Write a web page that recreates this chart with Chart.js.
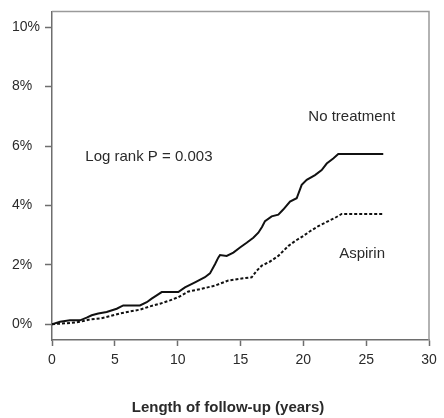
<!DOCTYPE html>
<html>
<head>
<meta charset="utf-8">
<script src="https://cdn.jsdelivr.net/npm/chart.js@4.4.1/dist/chart.umd.min.js"></script>
<style>
  html, body { margin: 0; padding: 0; background: #fff; }
  #wrap { width: 444px; height: 418px; position: relative; }
</style>
</head>
<body>
<div id="wrap"><canvas id="km"></canvas></div>
<script>
// Cumulative incidence (%) by years of follow-up
const noTreatmentYears = [0, 0.64, 1.43, 2.23, 2.76, 3.16, 3.68, 4.35, 5.15, 5.67, 7.0, 7.54, 7.93, 8.33, 8.73, 10.05, 10.58, 11.38, 12.17, 12.57, 12.97, 13.23, 13.37, 13.9, 14.43, 14.96, 15.49, 16.02, 16.42, 16.71, 16.95, 17.48, 18.01, 18.4, 18.94, 19.47, 19.87, 20.27, 20.93, 21.46, 21.86, 22.38, 22.78, 26.36];
const noTreatmentPct   = [0, 0.08, 0.13, 0.13, 0.22, 0.30, 0.36, 0.41, 0.52, 0.63, 0.63, 0.74, 0.86, 0.97, 1.08, 1.08, 1.24, 1.41, 1.58, 1.71, 2.02, 2.24, 2.33, 2.30, 2.41, 2.58, 2.74, 2.91, 3.08, 3.27, 3.47, 3.63, 3.69, 3.86, 4.13, 4.24, 4.69, 4.86, 5.02, 5.19, 5.41, 5.58, 5.73, 5.73];

const aspirinYears = [0, 1.43, 2.23, 3.02, 3.82, 4.62, 5.41, 6.21, 7.0, 7.8, 8.6, 9.39, 10.05, 10.85, 11.91, 12.97, 14.03, 15.1, 15.89, 16.29, 16.69, 17.35, 18.01, 18.8, 19.34, 20.0, 20.53, 21.19, 21.99, 22.52, 23.05, 26.36];
const aspirinPct   = [0, 0.04, 0.08, 0.16, 0.19, 0.27, 0.36, 0.43, 0.49, 0.6, 0.69, 0.8, 0.91, 1.1, 1.19, 1.3, 1.47, 1.54, 1.58, 1.8, 1.97, 2.11, 2.3, 2.63, 2.8, 2.97, 3.13, 3.3, 3.47, 3.58, 3.71, 3.71];

const yTickValues = [0, 2, 4, 6, 8, 10];
const xTickValues = [0, 5, 10, 15, 20, 25, 30];

const seriesLabels = ['No treatment', 'Aspirin'];
const pValueText = 'Log rank P = 0.003';
const xTitle = 'Length of follow-up (years)';

const toPoints = (xs, ys) => xs.map((x, i) => ({ x: x, y: ys[i] }));

const FONT = '"Liberation Sans", Arial, sans-serif';
const TEXT = '#2a2a2a';
const AXIS = '#6e6e6e';

// Box frame (top/right) plus the text annotations
const annotate = {
  id: 'annotate',
  afterDraw(chart) {
    const { ctx, chartArea: a, scales: { x, y } } = chart;
    ctx.save();
    ctx.strokeStyle = '#9a9a9a';
    ctx.lineWidth = 1.5;
    ctx.beginPath();
    ctx.moveTo(a.left, a.top);
    ctx.lineTo(a.right, a.top);
    ctx.lineTo(a.right, a.bottom);
    ctx.stroke();

    ctx.fillStyle = TEXT;
    ctx.font = '15px ' + FONT;
    ctx.textBaseline = 'middle';
    ctx.textAlign = 'left';
    ctx.fillText(pValueText, x.getPixelForValue(2.65), y.getPixelForValue(5.65));
    ctx.fillText(seriesLabels[0], x.getPixelForValue(20.4), y.getPixelForValue(6.97));
    ctx.fillText(seriesLabels[1], x.getPixelForValue(22.85), y.getPixelForValue(2.37));

    ctx.font = 'bold 15px ' + FONT;
    ctx.textAlign = 'center';
    ctx.fillText(xTitle, 228, 408);
    ctx.restore();
  }
};

new Chart(document.getElementById('km'), {
  type: 'line',
  data: {
    datasets: [
      {
        label: seriesLabels[0],
        data: toPoints(noTreatmentYears, noTreatmentPct),
        borderColor: '#111',
        borderWidth: 2,
        tension: 0,
        pointRadius: 0,
        fill: false
      },
      {
        label: seriesLabels[1],
        data: toPoints(aspirinYears, aspirinPct),
        borderColor: '#111',
        borderWidth: 2,
        borderDash: [3, 2],
        tension: 0,
        pointRadius: 0,
        fill: false
      }
    ]
  },
  options: {
    responsive: true,
    maintainAspectRatio: false,
    animation: false,
    layout: { padding: { left: 12, top: 8, right: 15, bottom: 0 } },
    plugins: { legend: { display: false }, tooltip: { enabled: false }, title: { display: false } },
    scales: {
      x: {
        type: 'linear',
        min: 0,
        max: 30,
        afterBuildTicks: s => { s.ticks = xTickValues.map(v => ({ value: v })); },
        afterFit: s => { s.height = 78; },
        grid: { drawOnChartArea: false, drawTicks: true, tickLength: 6, tickColor: AXIS, tickWidth: 1.5 },
        border: { display: true, color: AXIS, width: 1.5 },
        ticks: { color: TEXT, font: { family: FONT, size: 14 }, padding: 6, maxRotation: 0 }
      },
      y: {
        type: 'linear',
        min: -0.533,
        max: 10.533,
        afterBuildTicks: s => { s.ticks = yTickValues.map(v => ({ value: v })); },
        afterFit: s => { s.width = 40; },
        grid: { drawOnChartArea: false, drawTicks: true, tickLength: 7, tickColor: AXIS, tickWidth: 1.5 },
        border: { display: true, color: AXIS, width: 1.5 },
        ticks: {
          color: TEXT,
          crossAlign: 'far',
          font: { family: FONT, size: 14 },
          callback: v => v + '%'
        }
      }
    }
  },
  plugins: [annotate]
});
</script>
</body>
</html>
